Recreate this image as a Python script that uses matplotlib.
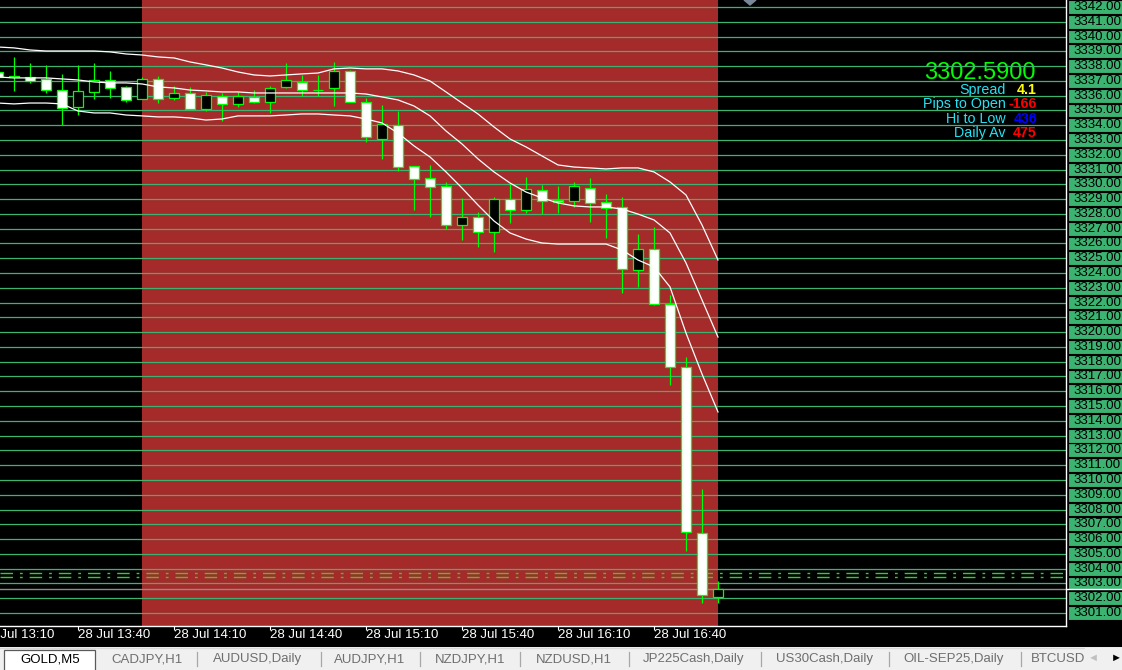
import numpy as np
import matplotlib
matplotlib.use("Agg")
import matplotlib.pyplot as plt
from matplotlib.patches import Rectangle, Polygon

plt.rcParams['font.family'] = ['Liberation Sans', 'DejaVu Sans']
plt.rcParams['lines.scale_dashes'] = False

# GOLD M5 candles, 28 Jul 13:15 .. 17:00
opens = [3337.60, 3337.30, 3337.24, 3337.11, 3336.36, 3335.21, 3336.27, 3337.04, 3336.56, 3335.75,
         3337.11, 3335.82, 3336.16, 3335.12, 3336.00, 3335.41, 3335.91, 3335.55, 3336.56, 3336.95,
         3336.38, 3336.50, 3337.65, 3335.55, 3333.09, 3333.99, 3331.22, 3330.43, 3329.87, 3327.23,
         3327.77, 3326.76, 3328.99, 3328.25, 3329.60, 3328.95, 3328.86, 3329.73, 3328.79, 3328.47,
         3324.21, 3325.63, 3321.91, 3317.65, 3306.40, 3302.11]
highs = [3337.80, 3338.59, 3338.19, 3338.08, 3337.47, 3338.08, 3338.21, 3337.67, 3336.65, 3337.24,
         3337.33, 3336.65, 3336.59, 3336.25, 3336.20, 3336.25, 3336.36, 3336.65, 3338.21, 3337.40,
         3337.40, 3338.28, 3337.74, 3335.86, 3335.36, 3334.96, 3331.22, 3331.29, 3330.16, 3329.08,
         3328.11, 3329.15, 3330.00, 3330.50, 3329.98, 3329.89, 3330.16, 3330.43, 3329.35, 3329.15,
         3326.67, 3327.12, 3322.49, 3318.32, 3309.38, 3303.17]
lows = [3337.00, 3336.34, 3336.85, 3336.20, 3334.02, 3334.69, 3335.78, 3335.87, 3335.59, 3335.75,
        3335.53, 3335.71, 3335.08, 3334.99, 3334.31, 3335.26, 3335.48, 3334.85, 3336.52, 3335.98,
        3336.00, 3335.32, 3335.55, 3332.89, 3331.69, 3330.93, 3328.23, 3327.82, 3327.01, 3326.20,
        3325.79, 3325.39, 3327.37, 3328.05, 3328.00, 3328.09, 3328.45, 3327.48, 3326.40, 3322.63,
        3323.03, 3321.84, 3316.44, 3305.22, 3301.66, 3301.70]
closes = [3337.24, 3337.28, 3337.02, 3336.36, 3335.19, 3336.29, 3337.04, 3336.50, 3335.73, 3337.11,
          3335.80, 3336.16, 3335.08, 3336.02, 3335.41, 3335.96, 3335.55, 3336.52, 3337.04, 3336.36,
          3336.36, 3337.65, 3335.55, 3333.18, 3334.06, 3331.20, 3330.34, 3329.85, 3327.23, 3327.77,
          3326.76, 3328.99, 3328.25, 3329.67, 3328.86, 3328.79, 3329.87, 3328.77, 3328.38, 3324.28,
          3325.63, 3321.91, 3317.65, 3306.46, 3302.20, 3302.59]

# bollinger bands as drawn on the chart
bb_upper = [3339.29, 3339.23, 3339.09, 3339.02, 3339.02, 3339.02, 3339.02, 3338.96, 3338.82, 3338.75,
            3338.62, 3338.55, 3338.28, 3338.08, 3337.87, 3337.60, 3337.40, 3337.33, 3337.40, 3337.47,
            3337.53, 3337.81, 3337.87, 3337.81, 3337.81, 3337.67, 3337.40, 3336.99, 3336.25, 3335.50,
            3334.76, 3333.88, 3333.07, 3332.53, 3331.92, 3331.31, 3331.17, 3331.11, 3331.04, 3331.11,
            3331.11, 3330.84, 3330.16, 3329.28, 3327.25, 3324.88]
bb_middle = [3337.26, 3337.20, 3337.20, 3337.20, 3337.13, 3337.06, 3336.93, 3336.86, 3336.86, 3336.79,
             3336.59, 3336.52, 3336.38, 3336.32, 3336.25, 3336.25, 3336.18, 3336.18, 3336.18, 3336.18,
             3336.18, 3336.18, 3336.18, 3336.11, 3335.91, 3335.71, 3335.30, 3334.63, 3333.61, 3332.73,
             3331.72, 3330.84, 3330.09, 3329.48, 3329.08, 3328.74, 3328.54, 3328.47, 3328.47, 3328.33,
             3327.99, 3327.59, 3326.71, 3324.68, 3322.18, 3319.67]
bb_lower = [3335.50, 3335.44, 3335.50, 3335.50, 3335.44, 3334.96, 3334.83, 3334.83, 3334.69, 3334.63,
            3334.56, 3334.56, 3334.49, 3334.35, 3334.42, 3334.63, 3334.63, 3334.63, 3334.69, 3334.76,
            3334.76, 3334.69, 3334.63, 3334.42, 3334.15, 3333.47, 3332.60, 3331.85, 3330.84, 3329.75,
            3328.60, 3327.52, 3326.71, 3326.30, 3326.03, 3325.96, 3325.96, 3325.96, 3325.96, 3325.56,
            3324.88, 3324.41, 3323.06, 3319.94, 3317.17, 3314.60]

time_ticks = [-1, 5, 11, 17, 23, 29, 35, 41]
time_labels = ["28 Jul 13:10", "28 Jul 13:40", "28 Jul 14:10", "28 Jul 14:40",
               "28 Jul 15:10", "28 Jul 15:40", "28 Jul 16:10", "28 Jul 16:40"]

price_levels = list(range(3301, 3343))
dash_levels = [3303.73, 3303.45]
bid = 3302.59
session = (9, 45)  # 14:00 .. 17:00 highlight

info_price = "3302.5900"
info_rows = [("Spread", "4.1", "#ffff00"),
             ("Pips to Open", "-166", "#ff0000"),
             ("Hi to Low", "436", "#0000ff"),
             ("Daily Av", "475", "#ff0000")]

tabs = ["GOLD,M5", "CADJPY,H1", "AUDUSD,Daily", "AUDJPY,H1", "NZDJPY,H1",
        "NZDUSD,H1", "JP225Cash,Daily", "US30Cash,Daily", "OIL-SEP25,Daily", "BTCUSD"]
tab_centers = [50, 147, 258, 370, 470, 574, 694, 825, 954, 1058]
tab_seps = [197, 321, 420, 520, 629, 761, 889, 1021]

W, H = 1122, 670
XLIM = (0.125, 66.75)
YLIM = (3300.12, 3342.47)
GRID = '#3cb371'
LIME = '#00ff00'


def fx(px):
    return px / W


def fy(py):
    return 1 - py / H


fig = plt.figure(figsize=(W / 100, H / 100), dpi=100, facecolor='black')

# main chart
ax = fig.add_axes([0, fy(626), fx(1066), 626 / H])
ax.set_facecolor('black')

ax.axvspan(session[0], session[1], color='#a52a2a', lw=0, zorder=0)
for lv in price_levels:
    ax.axhline(lv, color=GRID, lw=0.9, zorder=1)
for lv in dash_levels:
    ax.axhline(lv, color='#32cd32', lw=1.0, linestyle=(0, (9, 5, 2, 5)), zorder=1)
ax.axhline(bid, color='#8c8c8c', lw=1.0, zorder=1)

x = np.arange(len(opens))
o = np.array(opens)
c = np.array(closes)
ax.vlines(x, lows, highs, color=LIME, lw=0.9, zorder=3)
body_col = ['white' if cc <= oo else 'black' for oo, cc in zip(opens, closes)]
ax.bar(x, np.maximum(np.abs(c - o), 0.02), bottom=np.minimum(o, c), width=0.63,
       color=body_col, edgecolor=LIME, lw=0.9, zorder=4)

for band in (bb_upper, bb_middle, bb_lower):
    ax.plot(x, band, color='white', lw=0.9, zorder=5)

for side in ('top', 'left'):
    ax.spines[side].set_visible(False)
for side in ('bottom', 'right'):
    ax.spines[side].set_color('white')
    ax.spines[side].set_linewidth(1.0)
ax.set_yticks([])
ax.set_xticks(time_ticks, [''] * len(time_ticks))
ax.tick_params(axis='x', colors='white', length=3, width=0.8)
# time labels sit to the right of their tick, the first one runs off the left edge
for t, lab in zip(time_ticks, time_labels):
    ax.text(t, -9 / 626, lab, transform=ax.get_xaxis_transform(), ha='left', va='center',
            color='white', fontsize=9.5, clip_on=False)
# limits last, set_xticks would widen them
ax.set_xlim(*XLIM)
ax.set_ylim(*YLIM)

# info block (grid lines sit over it)
ax.text(fx(1036), fy(79), info_price, transform=fig.transFigure, ha='right', va='baseline',
        color=LIME, fontsize=17, zorder=0.5)
for k, (name, val, col) in enumerate(info_rows):
    yy = fy(90 + 14.3 * k)
    ax.text(fx(1006), yy, name, transform=fig.transFigure, ha='right', va='center',
            color='#22e4f2', fontsize=10.3, zorder=0.5)
    ax.text(fx(1037), yy, val, transform=fig.transFigure, ha='right', va='center',
            color=col, fontsize=10.3, fontweight='bold', zorder=0.5)

# shift marker
fig.patches.append(Polygon([[fx(744), fy(0)], [fx(756), fy(0)], [fx(750), fy(5)]],
                           closed=True, color='#778899', transform=fig.transFigure))

# price labels column
axr = fig.add_axes([fx(1066), fy(626), fx(56), 626 / H])
axr.set_xlim(0, 56)
axr.set_ylim(*YLIM)
axr.axis('off')
half = 6.9 / 14.78
for lv in price_levels:
    axr.add_patch(Rectangle((1.5, lv - half), 56, 2 * half, facecolor=GRID,
                            edgecolor='black', lw=0.8))
    axr.text(7, lv, f"{lv:.2f}", ha='left', va='center', color='black', fontsize=9.5)
axr.axhline(bid, xmin=0.02, color='white', lw=1.0)

# tab bar
axt = fig.add_axes([0, 0, 1, 23 / H])
axt.set_xlim(0, W)
axt.set_ylim(670, 647)
axt.axis('off')
axt.add_patch(Rectangle((0, 647), W, 23, facecolor='#f0f0f0', edgecolor='none', zorder=0))
axt.plot([0, W], [647.5, 647.5], color='#d8d8d8', lw=1.0, zorder=1)
axt.add_patch(Rectangle((4, 650), 91, 22, facecolor='white', edgecolor='#5a5a5a', lw=0.9, zorder=1))
for sx in tab_seps:
    axt.plot([sx, sx], [652, 666], color='#a8a8a8', lw=0.9, zorder=1)
for k, (name, cx) in enumerate(zip(tabs, tab_centers)):
    axt.text(cx, 659, name, ha='center', va='center', fontsize=9.5,
             color='black' if k == 0 else '#6e6e6e', zorder=3)
axt.add_patch(Rectangle((1085, 648), 40, 22, facecolor='#f0f0f0', edgecolor='none', zorder=4))
axt.text(1093, 658, "\u25c4", ha='center', va='center', fontsize=8, color='#c0c0c0', zorder=5)
axt.text(1116, 658, "\u25ba", ha='center', va='center', fontsize=8, color='black', zorder=5)

fig.savefig("out.png", dpi=100, facecolor='black')
